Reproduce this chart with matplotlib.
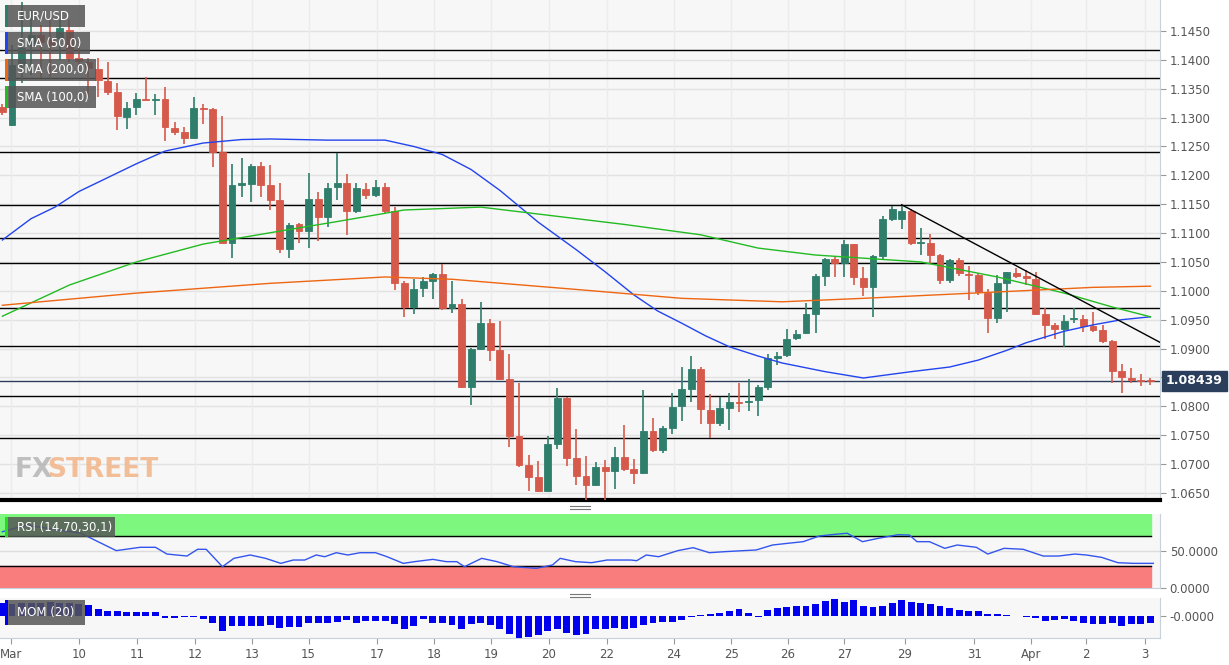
import matplotlib
matplotlib.use("Agg")
import matplotlib.pyplot as plt
import numpy as np
from matplotlib.patches import Rectangle

W, H = 1229, 665
opens = [1.1318,1.1287,1.1391,1.1426,1.1443,1.1434,1.1438,1.1452,1.1403,1.1396,1.1384,1.1363,1.1344,1.1301,1.1318,1.1332,1.1331,1.1332,1.1282,1.1275,
 1.1265,1.1317,1.1315,1.1240,1.1083,1.1184,1.1185,1.1216,1.1183,1.1157,1.1072,1.1116,1.1104,1.1159,1.1128,1.1180,1.1186,1.1138,1.1176,1.1166,
 1.1180,1.1138,1.1013,1.0972,1.1005,1.1017,1.1029,1.0970,1.0977,1.0833,1.0899,1.0944,1.0898,1.0847,1.0749,1.0698,1.0678,1.0653,1.0735,1.0814,
 1.0711,1.0679,1.0664,1.0695,1.0688,1.0712,1.0691,1.0685,1.0757,1.0724,1.0763,1.0800,1.0830,1.0865,1.0794,1.0771,1.0797,1.0807,1.0807,1.0811,
 1.0833,1.0884,1.0889,1.0918,1.0927,1.0960,1.1026,1.1055,1.1048,1.1081,1.1022,1.1006,1.1060,1.1124,1.1124,1.1138,1.1083,1.1083,1.1062,1.1019,
 1.1053,1.1029,1.1027,1.0996,1.0953,1.1013,1.1031,1.1026,1.1020,1.0960,1.0941,1.0934,1.0951,1.0951,1.0939,1.0932,1.0913,1.0861,1.0849,1.0846,1.0846]
highs = [1.1324,1.1426,1.1500,1.1486,1.1460,1.1469,1.1469,1.1469,1.1426,1.1403,1.1403,1.1396,1.1360,1.1327,1.1343,1.1370,1.1341,1.1353,1.1293,1.1284,
 1.1336,1.1324,1.1317,1.1303,1.1220,1.1230,1.1220,1.1223,1.1218,1.1186,1.1117,1.1117,1.1204,1.1171,1.1186,1.1239,1.1202,1.1186,1.1186,1.1192,
 1.1186,1.1145,1.1017,1.1020,1.1024,1.1031,1.1046,1.1017,1.0986,1.0901,1.0981,1.0951,1.0948,1.0891,1.0840,1.0716,1.0705,1.0749,1.0832,1.0816,
 1.0761,1.0714,1.0704,1.0707,1.0730,1.0768,1.0709,1.0828,1.0780,1.0766,1.0823,1.0868,1.0887,1.0868,1.0821,1.0816,1.0823,1.0840,1.0847,1.0837,
 1.0891,1.0894,1.0934,1.0932,1.0979,1.1029,1.1057,1.1059,1.1088,1.1081,1.1041,1.1062,1.1130,1.1147,1.1147,1.1142,1.1109,1.1098,1.1064,1.1055,
 1.1057,1.1043,1.1031,1.1003,1.1027,1.1032,1.1039,1.1036,1.1032,1.0970,1.0944,1.0958,1.0970,1.0958,1.0963,1.0941,1.0915,1.0873,1.0866,1.0856,1.0849]
lows = [1.1305,1.1285,1.1360,1.1374,1.1369,1.1370,1.1400,1.1396,1.1379,1.1336,1.1336,1.1339,1.1279,1.1280,1.1305,1.1331,1.1305,1.1260,1.1270,1.1254,
 1.1263,1.1289,1.1214,1.1083,1.1057,1.1162,1.1154,1.1162,1.1140,1.1066,1.1057,1.1083,1.1074,1.1086,1.1110,1.1157,1.1097,1.1135,1.1159,1.1162,
 1.1135,1.1001,1.0955,1.0960,1.0989,1.0986,1.0967,1.0962,1.0832,1.0802,1.0898,1.0878,1.0846,1.0730,1.0695,1.0653,1.0652,1.0652,1.0726,1.0697,
 1.0664,1.0638,1.0662,1.0638,1.0657,1.0688,1.0666,1.0683,1.0721,1.0719,1.0752,1.0775,1.0807,1.0770,1.0745,1.0766,1.0759,1.0790,1.0792,1.0783,
 1.0828,1.0872,1.0885,1.0915,1.0925,1.0927,1.1008,1.1024,1.1024,1.1010,1.0991,1.0955,1.1053,1.1121,1.1107,1.1079,1.1062,1.1048,1.1012,1.1013,
 1.1026,1.0984,1.0993,1.0927,1.0944,1.0963,1.1022,1.1010,1.0958,1.0917,1.0917,1.0903,1.0944,1.0929,1.0929,1.0910,1.0840,1.0823,1.0840,1.0835,1.0837]
closes = [1.1310,1.1391,1.1421,1.1443,1.1431,1.1426,1.1455,1.1403,1.1398,1.1386,1.1365,1.1344,1.1303,1.1317,1.1332,1.1331,1.1332,1.1284,1.1275,1.1265,
 1.1317,1.1315,1.1240,1.1083,1.1183,1.1186,1.1216,1.1183,1.1157,1.1072,1.1114,1.1104,1.1159,1.1128,1.1178,1.1186,1.1138,1.1178,1.1166,1.1180,
 1.1138,1.1013,1.0972,1.1003,1.1017,1.1029,1.0970,1.0977,1.0833,1.0899,1.0944,1.0898,1.0847,1.0749,1.0698,1.0678,1.0653,1.0735,1.0814,1.0711,
 1.0679,1.0664,1.0695,1.0688,1.0712,1.0691,1.0685,1.0757,1.0724,1.0763,1.0799,1.0830,1.0865,1.0795,1.0771,1.0797,1.0807,1.0806,1.0809,1.0833,
 1.0884,1.0887,1.0917,1.0925,1.0960,1.1026,1.1055,1.1048,1.1081,1.1024,1.1006,1.1060,1.1124,1.1142,1.1138,1.1083,1.1084,1.1062,1.1019,1.1053,
 1.1031,1.1027,1.0998,1.0953,1.1013,1.1032,1.1026,1.1022,1.0960,1.0941,1.0934,1.0948,1.0952,1.0939,1.0932,1.0913,1.0861,1.0851,1.0846,1.0844,1.0844]

sma50_idx = [0,3,5.5,8,10.5,14,17,21,25,28,34,40,43,46,49,52,56,60,63,66,68.5,71,73.5,76,79,81.5,86,90,95,99,102,105,107,111,114,117,120]
sma50_val = [1.1088,1.1125,1.1145,1.1172,1.1192,1.1220,1.1242,1.1256,1.1262,1.1263,1.1261,1.1261,1.1250,1.1236,1.1210,1.1174,1.1119,1.1071,1.1033,
 1.0993,1.0965,1.0944,1.0922,1.0903,1.0887,1.0875,1.0860,1.0849,1.0860,1.0868,1.0880,1.0897,1.0910,1.0930,1.0941,1.0950,1.0955]
sma100_idx = [0,7,14,21,31,35,42,50,57,65,73,79,85,96,104,111,116,120]
sma100_val = [1.0956,1.1010,1.1050,1.1081,1.1109,1.1120,1.1140,1.1145,1.1131,1.1115,1.1097,1.1074,1.1062,1.1050,1.1024,1.0996,1.0972,1.0955]
sma200_idx = [0,14,28,40,47,61,71,81.5,90,104,114,120]
sma200_val = [1.0975,1.0996,1.1013,1.1024,1.1020,1.1001,1.0987,1.0981,1.0987,1.0998,1.1006,1.1008]
trend_idx = [94, 121.2]
trend_val = [1.1149, 1.0909]
levels = [1.1417,1.1369,1.1240,1.1149,1.1091,1.1048,1.0970,1.0905,1.0818,1.0745]
last_price = 1.08439

rsi_idx = [0,2.5,8.2,11.9,14.4,16,17.2,19.3,20.4,21.3,23,24.2,25.9,27.5,29.1,30.4,31.6,32.8,33.7,34.9,36.1,37.4,39,40.2,41.9,43.1,45,46.4,47.5,48.3,
 50.1,51.7,53.4,55.8,57.5,58.3,59.9,61.6,63.2,65.7,66.3,67.3,68.6,70.6,72.2,73.9,75.5,78.8,80.5,82.1,83.7,85.4,87,88.3,89.9,91.5,93.6,94.8,95.6,96.9,
 98.5,99.8,101.8,103,104.7,106.7,108.8,110.4,112.1,113.3,114.9,116.6,118.2,120.3]
rsi_val = [76,85,74,50.5,55,55,45.9,43.2,52.3,52.3,28.8,40.1,44.6,40.1,33.3,37.8,37.8,44.6,42.3,47.7,44.6,47.7,47.7,42.3,33.3,35.6,38.7,35.6,35.6,28.8,
 40.1,35.6,28.8,26.6,31.1,40.1,35.6,34.2,37.8,37.8,36.9,44.6,42.3,50.5,54.5,47.7,49.1,51.4,58.1,60.4,62.6,70.3,72.5,74,62.6,67,72,71.6,62.6,62.6,
 53.6,58.1,55,45.9,53.6,52.3,43.2,43.2,45.9,44.6,41.4,34.2,33.3,33.3]
mom = [38,35,38,40,38,42,40,38,35,33,20,15,15,13,13,13,12,-5,-5,-4,-2,-10,-22,-45,-30,-30,-30,-30,-28,-35,
 -32,-33,-20,-20,-22,-18,-12,-20,-15,-16,-15,-25,-38,-30,-10,-20,-20,-28,-40,-25,-22,-28,-38,-55,-65,-63,-57,-45,-40,-50,
 -58,-55,-40,-38,-35,-40,-35,-28,-20,-18,-18,-12,-3,2,5,8,15,20,8,-2,18,25,28,30,30,35,45,50,42,48,
 30,28,30,40,48,42,38,35,30,25,18,15,15,5,5,3,0,-3,-5,-15,-12,-10,-15,-20,-25,-25,-22,-30,-25,-25,-22]
tick_pos = [0.9,8.0,14.1,20.1,26.1,32.0,39.2,45.1,51.1,57.1,63.2,70.2,76.2,82.1,88.0,94.3,101.6,107.5,113.3,119.4]
tick_lab = ["Mar","10","11","12","13","15","17","18","19","20","22","24","25","26","27","29","31","Apr","2","3"]

GREEN = "#2f7e6b"; RED = "#d65a4b"
XL = (-0.25, 121.0)

def rect(x0, y0, x1, y1):
    return [x0 / W, 1 - y1 / H, (x1 - x0) / W, (y1 - y0) / H]

fig = plt.figure(figsize=(W / 100, H / 100), dpi=100)
fig.patch.set_facecolor("white")

def style(ax):
    ax.set_facecolor("#f7f7f7")
    for s in ["top", "left"]:
        ax.spines[s].set_visible(False)
    ax.spines["right"].set_color("#c8d0dc")
    ax.spines["bottom"].set_color("#c8d0dc")
    ax.yaxis.tick_right()
    ax.tick_params(axis="y", colors="#999999", labelcolor="#555555", labelsize=8.5, length=4, pad=3)
    ax.set_xlim(*XL)

# main
ax = fig.add_axes(rect(0, 0, 1160, 500))
style(ax)
ax.set_ylim(1.06377, 1.15037)
yt = np.arange(1.0650, 1.14501, 0.005)
ax.set_yticks(yt)
ax.set_yticklabels(["" if abs(v - 1.085) < 1e-6 else f"{v:.4f}" for v in yt])
ax.set_xticks([])
for v in yt:
    ax.axhline(v, color="#e2e2e2", lw=1, zorder=0)
for t in tick_pos:
    ax.axvline(t, color="#ececec", lw=1, zorder=0)
ax.spines["bottom"].set_color("black"); ax.spines["bottom"].set_linewidth(3)
for lv in levels:
    ax.axhline(lv, color="black", lw=1, zorder=1)
ax.axhline(last_price, color="#2b3f5c", lw=1, zorder=1)
o = np.array(opens); c = np.array(closes); hi = np.array(highs); lo = np.array(lows)
idx = np.arange(len(o))
cols = [GREEN if cc >= oo else RED for oo, cc in zip(o, c)]
ax.vlines(idx, lo, hi, colors=cols, lw=1.2, zorder=3)
bh = np.maximum(np.abs(c - o), 0.00012)
ax.bar(idx, bh, bottom=np.minimum(o, c), width=0.72, color=cols, edgecolor=cols, lw=0.6, zorder=4)
ax.plot(sma50_idx, sma50_val, color="#2244ee", lw=1, zorder=5)
ax.plot(sma100_idx, sma100_val, color="#22bb22", lw=1, zorder=5)
ax.plot(sma200_idx, sma200_val, color="#ee6611", lw=1, zorder=5)
ax.plot(trend_idx, trend_val, color="black", lw=1, zorder=5)
fig.text(15 / W, 1 - 470 / H, "FX", color="#b5b5b5", fontsize=19, fontweight="bold", va="center", alpha=0.85)
fig.text(47 / W, 1 - 470 / H, "STREET", color="#f2b487", fontsize=19, fontweight="bold", va="center", alpha=0.85)
fig.text(1166 / W, 1 - 381 / H, "1.08439", color="white", fontsize=9, fontweight="bold", va="center",
         bbox=dict(boxstyle="square,pad=0.3", fc="#2b3f5c", ec="#2b3f5c"))

def label_box(x0, y0, x1, y1, text, stripe):
    fig.patches.append(Rectangle((x0 / W, 1 - y1 / H), (x1 - x0) / W, (y1 - y0) / H,
                                 transform=fig.transFigure, fc="#555555", alpha=0.85, ec="none", zorder=10))
    fig.patches.append(Rectangle((x0 / W, 1 - y1 / H), 3 / W, (y1 - y0) / H,
                                 transform=fig.transFigure, fc=stripe, ec="none", zorder=11))
    fig.text((x0 + 12) / W, 1 - (y0 + y1) / 2 / H, text, color="white", fontsize=8.5, va="center", zorder=12)

label_box(5, 5, 85, 27, "EUR/USD", GREEN)
label_box(5, 32, 90, 54, "SMA (50,0)", "#2244ee")
label_box(5, 59, 96, 81, "SMA (200,0)", "#ee6611")
label_box(5, 86, 96, 108, "SMA (100,0)", "#22bb22")

# RSI
ar = fig.add_axes(rect(0, 514, 1160, 588))
style(ar)
ar.set_ylim(0, 100)
ar.axhspan(70, 100, xmin=0, xmax=0.992, color="#7ef77e", zorder=0)
ar.axhspan(0, 30, xmin=0, xmax=0.992, color="#f97d7d", zorder=0)
ar.axhline(70, color="black", lw=1, xmax=0.992); ar.axhline(30, color="black", lw=1, xmax=0.992)
ar.axhline(50, color="#dddddd", lw=1, zorder=0)
ar.plot(rsi_idx, rsi_val, color="#3355ee", lw=1, zorder=3)
ar.set_yticks([0, 50]); ar.set_yticklabels(["0.0000", "50.0000"])
ar.set_xticks([])
label_box(5, 517, 115, 537, "RSI (14,70,30,1)", "#22dd22")

# MOM
am = fig.add_axes(rect(0, 598, 1160, 638))
style(am)
am.set_ylim(-66, 54)
am.bar(idx, mom, width=0.72, color="#0000ee", zorder=3)
am.set_yticks([0]); am.set_yticklabels(["-0.0000"])
am.set_xticks(tick_pos)
am.set_xticklabels(tick_lab)
am.tick_params(axis="x", colors="#999999", labelcolor="#555555", labelsize=8.5, length=4)
label_box(5, 600, 85, 625, "MOM (20)", "#0000ee")

for yy in (507, 595):
    for d in (-1.5, 1.5):
        fig.lines.append(plt.Line2D([570 / W, 590 / W], [1 - (yy + d) / H] * 2, color="#777777", lw=0.8, transform=fig.transFigure))

fig.savefig("out.png", dpi=100)
